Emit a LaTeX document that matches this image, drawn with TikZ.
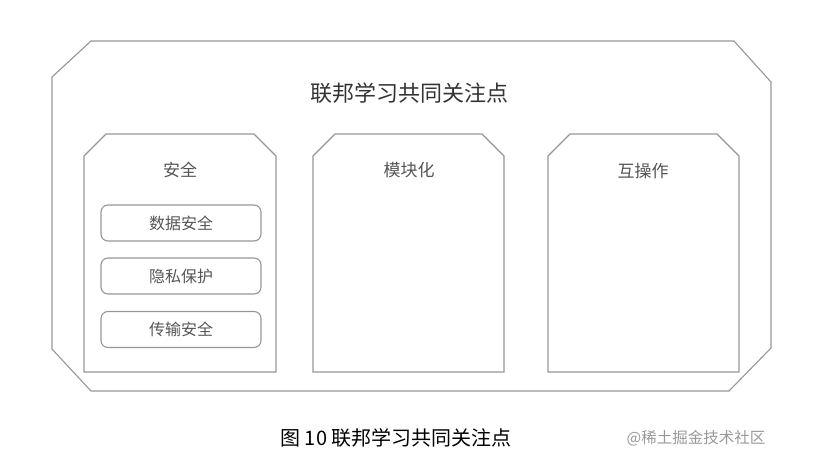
\documentclass[tikz,border=0pt]{standalone}
\usepackage{fontspec}
\setmainfont{Noto Sans CJK SC}
\definecolor{linegray}{RGB}{150,150,150}
\definecolor{textgray}{RGB}{85,85,85}
\tikzset{
  frame/.style={draw=linegray, line width=1.1pt},
  itembox/.style={draw=linegray, line width=1.1pt, rounded corners=7pt, minimum width=160pt, minimum height=36pt, inner sep=0pt, text=textgray, font=\fontsize{16}{16}\selectfont},
  boxtitle/.style={text=textgray, font=\fontsize{17}{17}\selectfont}
}
\begin{document}
\begin{tikzpicture}[x=1pt,y=-1pt]
    \useasboundingbox (0,0) rectangle (816,466);
    % outer frame with cut corners
    \draw[frame] (91,41) -- (734,41) -- (771,82) -- (771,348) -- (729,391) -- (91,391) -- (52,349) -- (52,77) -- cycle;
    \node[text=black!80, font=\fontsize{22}{22}\selectfont] (title) at (409,93) {联邦学习共同关注点};
    % three columns, top corners cut
    \foreach \l/\r in {84/276, 313/504, 548/739} {
        \draw[frame] (\l,372) -- (\l,156) -- (\l+22,134) -- (\r-22,134) -- (\r,156) -- (\r,372) -- cycle;
    }
    \node[boxtitle] (sec) at (180,170) {安全};
    \node[boxtitle] (mod) at (409,170) {模块化};
    \node[boxtitle] (inter) at (643,171) {互操作};
    % items of the first column
    \node[itembox] (data) at (181,223) {数据安全};
    \node[itembox] (priv) at (181,276) {隐私保护};
    \node[itembox] (trans) at (181,329.5) {传输安全};
    % caption and mark
    \node[text=black, font=\fontsize{20}{20}\selectfont] (cap) at (396,438) {图 10 联邦学习共同关注点};
    \node[text=black!40, font=\fontsize{15.5}{15.5}\selectfont] (mark) at (696,438) {@稀土掘金技术社区};
\end{tikzpicture}
\end{document}
